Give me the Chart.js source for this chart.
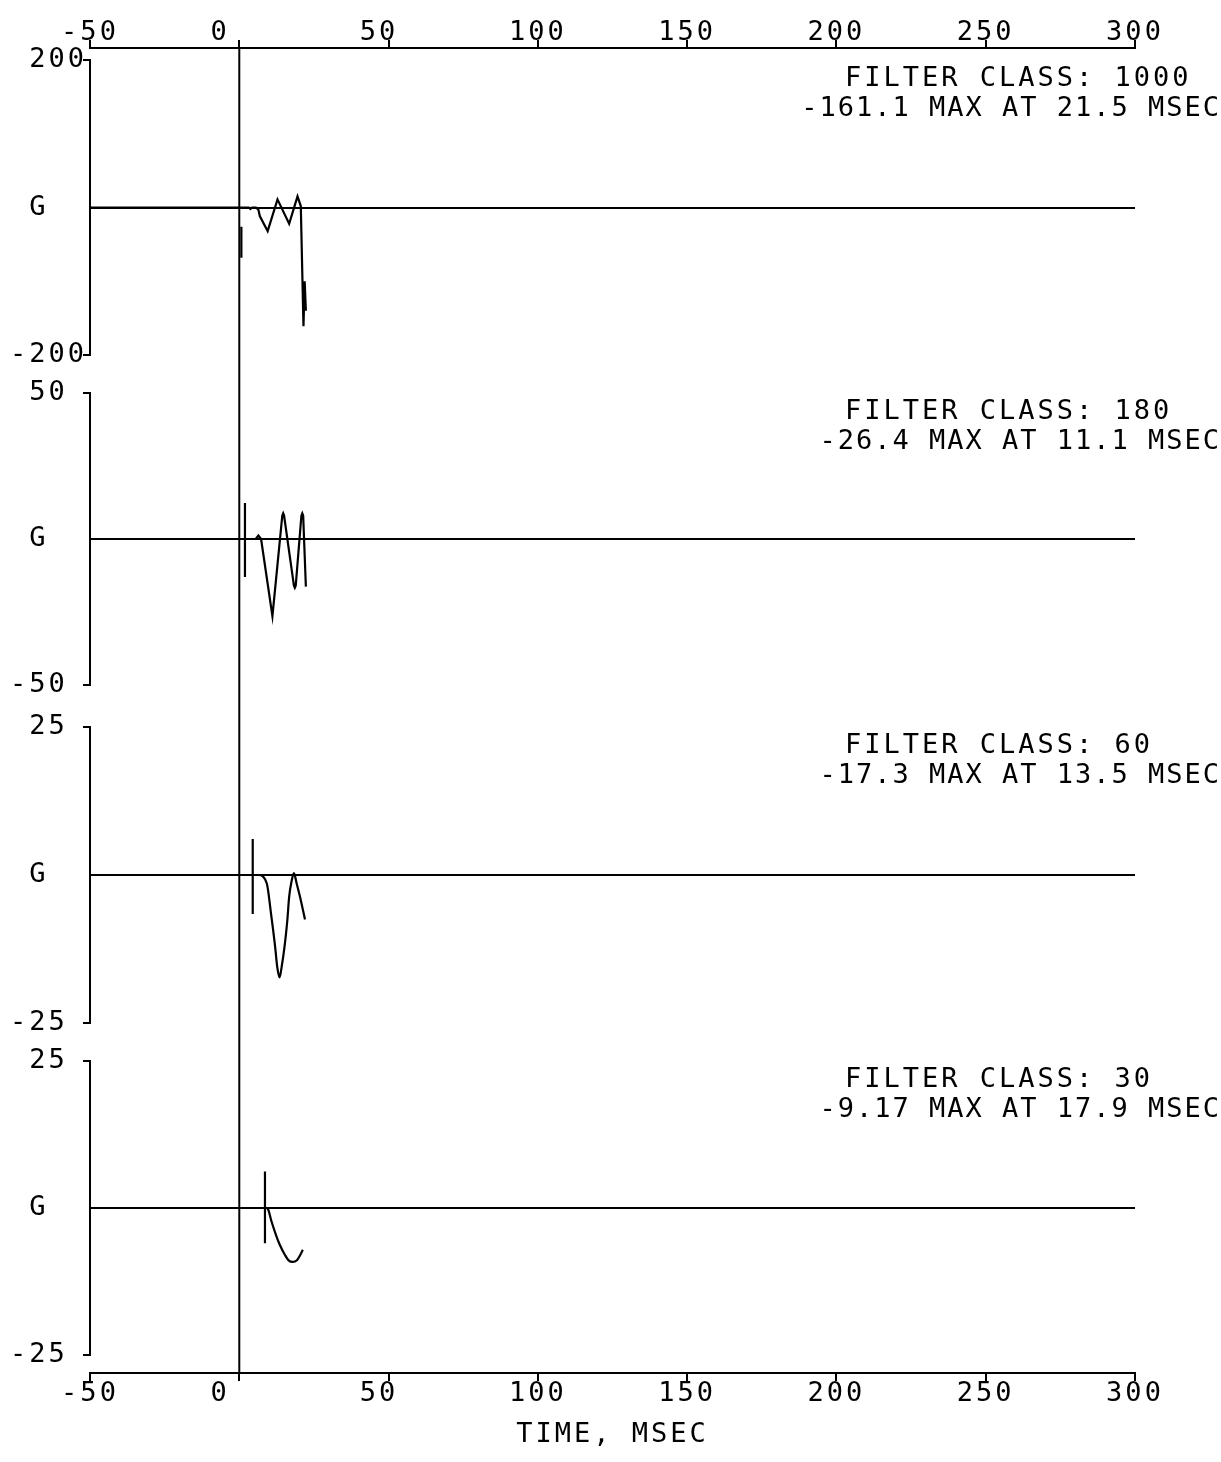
<!DOCTYPE html>
<html>
<head>
<meta charset="utf-8">
<script src="https://cdn.jsdelivr.net/npm/chart.js@4.4.1/dist/chart.umd.min.js"></script>
<style>
html, body { margin: 0; padding: 0; background: #fff; }
#wrap { position: relative; width: 1221px; height: 1462px; background: #fff; }
#wrap canvas { position: absolute; left: 0; }
</style>
</head>
<body>
<div id="wrap">
  <canvas id="base" width="1221" height="1462" style="top:0"></canvas>
</div>
<script>
// time axis
const xTicks = [-50, 0, 50, 100, 150, 200, 250, 300];

// panel info
const filterClasses = ['1000', '180', '60', '30'];
const panelLimits = [200, 50, 25, 25];
const peakValues = ['-161.1', '-26.4', '-17.3', '-9.17'];
const peakTimes = ['21.5', '11.1', '13.5', '17.9'];

// traces (msec, G)
const time1000 = [-50, 3.2, 3.7, 4.3, 5.6, 6.4, 6.9, 9.5, 12.8, 16.7, 19.5, 20.6, 21.5, 21.9, 22.3];
const accel1000 = [0, 0, -2, 0, 0, -3, -12, -32, 11, -22, 15, 2, -161.1, -100, -140];

const time180 = [-50, 5.5, 6.4, 7.3, 11.1, 14.4, 14.7, 15.0, 18.3, 18.6, 18.9, 20.8, 21.1, 21.4, 22.3];
const accel180 = [0, 0, 1.2, 0, -26.4, 8, 8.8, 8, -16, -16.7, -16, 8, 8.8, 8, -16.3];

const time60 = [-50, 6.5, 8.0, 9.2, 9.7, 10.5, 12.0, 12.7, 13.5, 14.2, 15.3, 16.1, 16.7, 17.5, 18.3, 19.2, 20.3, 22.0];
const accel60 = [0, 0, -0.3, -1.4, -2.8, -6, -12.1, -15.5, -17.3, -15.5, -11.5, -7.6, -3.7, -1.1, 0.3, -1.4, -3.6, -7.5];

const time30 = [-50, 8.4, 9.0, 9.7, 10.8, 12.3, 13.6, 15.3, 16.5, 17.9, 19.3, 20.3, 21.3];
const accel30 = [0, 0, 0, -0.3, -2.3, -4.6, -6.3, -8.0, -8.9, -9.17, -8.9, -8.1, -7.1];

// short vertical markers in each panel
const markerTimes = [0.7, 1.9, 4.5, 8.6];
const markerTop = [-26, 12.3, 6.1, 6.2];
const markerBottom = [-68, -13, -6.6, -6.0];

// time zero line
const zeroLineTime = [0, 0];
const zeroLineSpan = [0, 1];

const FONT = 'DejaVu Sans Mono';
const panelTops = [60, 393, 727, 1061];
const panelBottoms = [355, 685, 1023, 1355];
const smoothPanels = [false, false, true, true];

const spacing = {
    id: 'spacing',
    beforeDraw(chart) { chart.ctx.letterSpacing = '3px'; }
};

function points(xs, ys) {
    return xs.map((x, k) => ({ x: x, y: ys[k] }));
}

function tickLabel(v) {
    return String(v).padEnd(3, ' ');
}

// axes on top and bottom + the zero time line
new Chart(document.getElementById('base'), {
    type: 'line',
    data: {
        datasets: [{
            data: points(zeroLineTime, zeroLineSpan),
            borderColor: '#000',
            borderWidth: 2,
            pointRadius: 0
        }]
    },
    options: {
        responsive: false,
        animation: false,
        layout: { padding: { left: 90, right: 86, top: 0, bottom: 0 } },
        plugins: { legend: { display: false }, tooltip: { enabled: false } },
        scales: {
            x: {
                type: 'linear', position: 'bottom', min: -50, max: 300,
                afterBuildTicks: s => { s.ticks = xTicks.map(v => ({ value: v })); },
                afterFit: s => { s.height = 89; },
                ticks: {
                    color: '#000', padding: -3, maxRotation: 0, autoSkip: false,
                    font: { family: FONT, size: 27 },
                    callback: tickLabel
                },
                grid: { drawOnChartArea: false, tickLength: 8, color: '#000', lineWidth: 2 },
                border: { display: true, color: '#000', width: 2 },
                title: {
                    display: true, text: 'TIME, MSEC', color: '#000',
                    font: { family: FONT, size: 27 },
                    padding: { top: 0, bottom: 11 }
                }
            },
            x2: {
                type: 'linear', position: 'top', min: -50, max: 300,
                afterBuildTicks: s => { s.ticks = xTicks.map(v => ({ value: v })); },
                afterFit: s => { s.height = 48; },
                ticks: {
                    color: '#000', padding: -9, maxRotation: 0, autoSkip: false,
                    font: { family: FONT, size: 27 },
                    callback: tickLabel
                },
                grid: { drawOnChartArea: false, tickLength: 8, color: '#000', lineWidth: 2 },
                border: { display: true, color: '#000', width: 2 }
            },
            y: { display: false, min: 0, max: 1 }
        }
    },
    plugins: [spacing]
});

function notes(i) {
    return {
        id: 'notes' + i,
        afterDraw(chart) {
            const ctx = chart.ctx;
            const a = chart.chartArea;
            ctx.save();
            ctx.font = '27px "' + FONT + '"';
            ctx.fillStyle = '#000';
            ctx.textBaseline = 'middle';
            ctx.letterSpacing = '3px';
            ctx.textAlign = 'left';
            ctx.fillText('FILTER CLASS: ' + filterClasses[i], 845, a.top + 19);
            ctx.letterSpacing = '2px';
            ctx.textAlign = 'right';
            ctx.fillText(peakValues[i] + ' MAX AT ' + peakTimes[i] + ' MSEC', 1221, a.top + 49);
            ctx.restore();
        }
    };
}

function makePanel(i, times, values) {
    const pad = 30;
    const top = panelTops[i];
    const bottom = panelBottoms[i];
    const lim = panelLimits[i];
    const canvas = document.createElement('canvas');
    canvas.width = 1221;
    canvas.height = bottom - top + 2 * pad;
    canvas.style.top = (top - pad) + 'px';
    document.getElementById('wrap').appendChild(canvas);

    new Chart(canvas, {
        type: 'line',
        data: {
            datasets: [{
                data: points(times, values),
                borderColor: '#000',
                borderWidth: 2.2,
                pointRadius: 0,
                cubicInterpolationMode: smoothPanels[i] ? 'monotone' : 'default',
                tension: 0
            }, {
                data: points([markerTimes[i], markerTimes[i]], [markerTop[i], markerBottom[i]]),
                borderColor: '#000',
                borderWidth: 2.2,
                pointRadius: 0
            }]
        },
        options: {
            responsive: false,
            animation: false,
            layout: { padding: { left: 10, right: 86, top: pad, bottom: pad } },
            plugins: { legend: { display: false }, tooltip: { enabled: false } },
            scales: {
                x: { type: 'linear', min: -50, max: 300, display: false },
                y: {
                    type: 'linear', min: -lim, max: lim,
                    afterBuildTicks: s => { s.ticks = [{ value: -lim }, { value: 0 }, { value: lim }]; },
                    afterFit: s => { s.width = 80; },
                    ticks: {
                        crossAlign: 'far', color: '#000',
                        font: { family: FONT, size: 27 },
                        callback: v => v === 0 ? ' G' : (v > 0 ? ' ' + v : String(v))
                    },
                    grid: {
                        color: c => (c.tick && c.tick.value === 0) ? '#000' : 'rgba(0,0,0,0)',
                        tickColor: c => (c.tick && c.tick.value === 0) ? 'rgba(0,0,0,0)' : '#000',
                        tickLength: 7,
                        lineWidth: 2
                    },
                    border: { display: true, color: '#000', width: 2 }
                }
            }
        },
        plugins: [spacing, notes(i)]
    });
}

makePanel(0, time1000, accel1000);
makePanel(1, time180, accel180);
makePanel(2, time60, accel60);
makePanel(3, time30, accel30);
</script>
</body>
</html>
